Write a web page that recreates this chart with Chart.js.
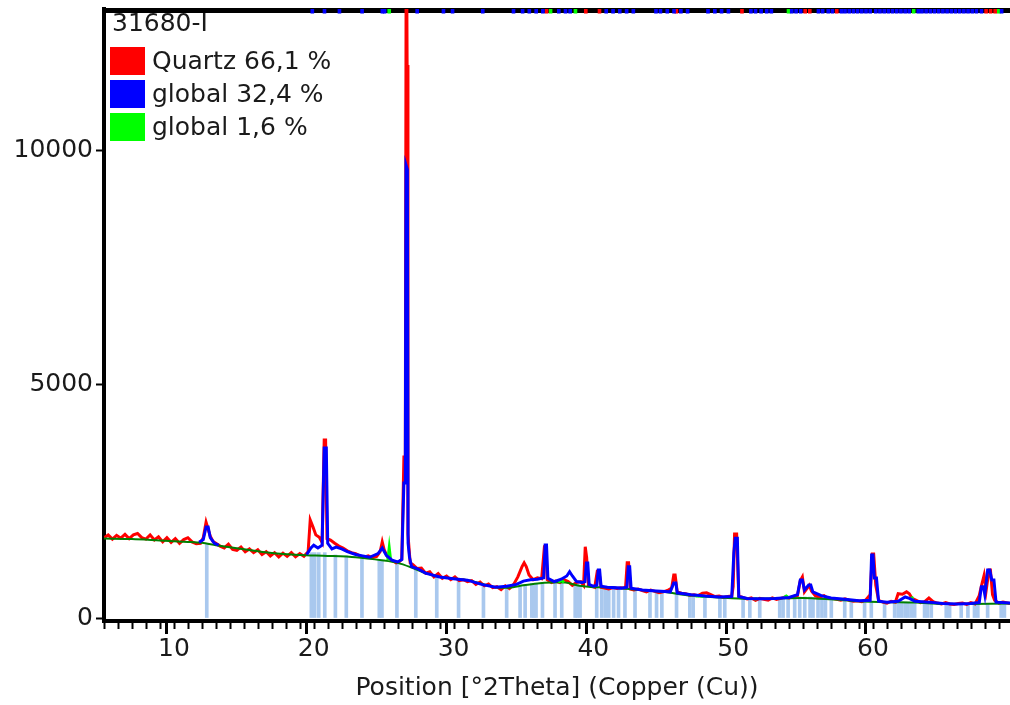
<!DOCTYPE html>
<html>
<head>
<meta charset="utf-8">
<script src="https://cdn.jsdelivr.net/npm/chart.js@4.4.1/dist/chart.umd.min.js"></script>
<style>
  html, body { margin: 0; padding: 0; background: #ffffff; }
  #wrap { width: 1010px; height: 705px; }
</style>
</head>
<body>
<div id="wrap"><canvas id="xrd" width="1010" height="705"></canvas></div>
<script>
// ---- Sample / legend text ----
const sampleName = '31680-I';
const legendLabels = ['Quartz 66,1 %', 'global 32,4 %', 'global 1,6 %'];
const legendColors = ['#ff0000', '#0000ff', '#00ff00'];
const xTitle = 'Position [°2Theta] (Copper (Cu))';
const yTickValues = [0, 5000, 10000];
const xLabelValues = [10, 20, 30, 40, 50, 60];

// ---- Observed counts (red) ----
const obsTheta = [5.0,5.3,5.6,5.9,6.2,6.5,6.8,7.1,7.4,7.7,8.0,8.3,8.6,8.9,9.2,9.5,9.8,10.1,10.4,10.7,11.0,11.3,11.6,11.9,12.1,12.3,12.45,12.6,12.8,13.0,13.3,13.6,13.9,14.2,14.5,14.8,15.1,15.4,15.7,16.0,16.3,16.6,16.9,17.2,17.5,17.8,18.1,18.4,18.7,19.0,19.3,19.6,19.75,19.95,20.15,20.4,20.6,20.75,20.85,20.95,21.2,21.5,21.8,22.1,22.4,22.7,23.0,23.3,23.6,23.9,24.2,24.5,24.75,24.9,25.05,25.3,25.6,25.9,26.1,26.3,26.45,26.55,26.62,26.68,26.74,26.8,26.9,27.1,27.4,27.7,28.0,28.3,28.6,28.9,29.2,29.5,29.8,30.1,30.4,30.7,31.0,31.3,31.6,31.9,32.2,32.5,32.8,33.1,33.4,33.7,34.0,34.3,34.6,34.9,35.05,35.2,35.4,35.7,36.0,36.3,36.5,36.6,36.7,37.0,37.3,37.6,37.9,38.2,38.5,38.8,39.1,39.3,39.42,39.52,39.65,39.9,40.1,40.28,40.4,40.55,40.8,41.1,41.4,41.7,42.0,42.3,42.42,42.52,42.65,42.9,43.2,43.5,43.8,44.1,44.4,44.7,45.0,45.3,45.6,45.75,45.85,46.0,46.3,46.6,46.9,47.2,47.5,47.8,48.1,48.4,48.7,49.0,49.3,49.6,49.9,50.0,50.1,50.25,50.4,50.7,51.0,51.3,51.6,51.9,52.2,52.5,52.8,53.1,53.4,53.7,54.0,54.3,54.6,54.8,54.95,55.1,55.3,55.45,55.6,55.9,56.2,56.5,56.8,57.1,57.4,57.7,58.0,58.3,58.6,58.9,59.2,59.5,59.8,59.95,60.05,60.2,60.4,60.7,61.0,61.3,61.6,61.8,62.1,62.4,62.6,62.8,63.1,63.4,63.7,64.0,64.3,64.6,64.9,65.2,65.5,65.8,66.1,66.4,66.7,67.0,67.3,67.6,67.75,67.95,68.1,68.3,68.4,68.55,68.7,69.0,69.3,69.8];
const obsCounts = [1720,1780,1690,1770,1710,1790,1700,1780,1810,1720,1690,1780,1670,1740,1630,1720,1620,1700,1600,1680,1720,1630,1590,1600,1720,2050,1900,1750,1640,1600,1540,1500,1580,1470,1450,1520,1420,1480,1400,1460,1360,1420,1330,1400,1310,1390,1320,1400,1310,1380,1320,1420,2100,1950,1780,1730,1620,3810,3810,1700,1670,1600,1540,1500,1440,1400,1380,1330,1300,1330,1290,1320,1420,1630,1450,1300,1230,1180,1200,1260,3450,3450,16000,11840,1800,1560,1180,1140,1060,1070,960,990,880,950,850,900,820,880,800,820,780,800,720,770,690,730,650,670,610,690,630,720,880,1100,1180,1100,920,820,860,840,1525,1525,820,760,790,760,820,780,700,760,780,700,1525,1300,700,680,660,1000,1000,660,640,620,650,630,650,640,1185,1185,620,600,620,590,560,600,570,540,560,590,640,920,920,560,530,520,490,500,480,530,540,500,460,470,440,460,470,670,1800,1800,470,440,410,430,380,420,400,380,430,400,420,450,430,460,480,800,880,560,640,700,580,470,450,480,420,420,400,380,410,380,360,370,350,390,500,1370,1370,700,380,340,320,360,340,520,510,560,520,420,380,330,350,430,350,320,300,330,300,290,310,320,290,330,300,480,680,920,600,1030,1030,500,380,320,340,310];

// ---- Calculated profile (blue), gaps where it coincides with the background ----
const calcTheta = [11.8,12.1,12.3,12.45,12.6,12.9,13.2,13.3,19.4,19.5,19.8,20.0,20.3,20.6,20.75,20.9,21.0,21.3,21.6,22.0,22.4,23.0,23.5,24.0,24.6,24.9,25.2,25.6,26.0,26.3,26.45,26.55,26.6,26.7,26.75,26.85,27.0,27.4,28.0,29.0,30.0,31.0,32.0,33.0,33.8,34.5,35.0,35.5,36.0,36.45,36.55,36.65,36.75,37.2,37.7,38.1,38.3,38.5,38.8,39.2,39.4,39.5,39.6,39.7,40.0,40.25,40.35,40.45,40.55,41.0,42.0,42.4,42.5,42.6,42.7,43.5,44.5,45.5,45.75,45.9,46.0,47.0,48.0,49.0,49.9,50.05,50.15,50.3,50.4,51.0,52.0,53.0,54.0,54.6,54.8,54.95,55.1,55.4,55.55,55.7,56.3,57.0,58.0,59.0,59.8,59.9,60.0,60.1,60.25,60.4,61.0,61.8,62.3,62.6,63.0,64.0,65.0,66.0,67.0,67.6,67.75,67.9,68.0,68.2,68.35,68.5,68.65,68.8,69.8];
const calcCounts = [1620,1680,1950,1950,1720,1600,1560,null,null,1360,1500,1560,1500,1560,3640,3640,1600,1480,1520,1480,1420,1360,1330,1300,1380,1500,1340,1240,1200,1250,2890,2890,9700,9600,1600,1300,1100,1060,960,880,840,810,720,660,680,720,790,820,830,860,1563,1563,850,780,830,900,990,900,780,760,780,1180,1180,720,680,700,1030,1030,680,660,640,660,1100,1100,640,600,580,560,750,750,540,500,470,450,460,1400,1710,1710,460,420,410,420,440,500,815,815,600,705,705,560,480,430,400,370,380,1350,1350,855,855,360,340,360,450,420,360,340,310,300,310,330,670,670,500,1030,1030,815,815,340,320];

// ---- Background (dark green) ----
const bgTheta = [5,7,9,11,12,13,15,17,19,21,23,25,26,27,28,29,31,33,34,35,36,37,38,39,40,41,43,45,47,49,51,53,55,57,59,61,63,65,67,69.8];
const bgCounts = [1700,1690,1660,1630,1610,1560,1470,1390,1350,1330,1300,1230,1180,1080,960,880,810,660,650,700,740,760,760,690,660,660,610,560,480,440,410,420,430,400,360,340,330,300,300,310];

// ---- Minor phase (bright green) ----
const phase3Theta = [25.3,25.4,25.5,25.6,37.5,37.7,37.9,38.0,47.3,47.6,47.9,48.0,51.5,51.7,51.8,53.6,53.8,54.0,54.1,62.7,62.9,63.0];
const phase3Counts = [1240,1500,1240,null,760,815,760,null,470,470,460,null,410,410,null,430,470,430,null,420,440,null];

// ---- Reference line positions (light blue sticks) ----
const stickTheta = [12.35,19.83,20.07,20.36,20.79,21.55,22.33,23.45,24.69,24.88,25.95,27.30,28.80,30.36,32.14,33.80,34.76,35.12,35.60,35.75,35.90,36.36,37.26,37.74,38.70,38.85,39.05,40.24,40.60,40.85,41.10,41.45,41.80,42.26,42.98,44.05,44.52,44.90,45.95,46.90,47.14,47.98,49.05,49.40,50.71,51.19,51.90,53.33,53.57,53.93,54.40,54.76,55.12,55.50,55.71,56.07,56.35,56.60,57.02,57.98,58.45,59.40,59.88,60.83,61.55,61.80,62.05,62.30,62.50,62.74,62.98,63.69,63.90,64.17,65.24,65.48,66.31,66.79,67.26,67.50,68.20,69.17,69.40];
const stickCounts = [1600,1400,1400,1400,1400,1350,1330,1290,1240,1240,1160,1060,890,820,700,650,690,720,740,740,740,760,760,760,720,720,700,660,660,660,650,650,640,630,610,580,570,560,540,490,480,460,440,440,420,410,410,420,420,430,440,450,450,450,440,430,420,420,400,380,370,360,350,340,340,340,340,340,340,335,330,320,320,320,300,300,300,300,305,305,310,310,310];

// ---- Phase markers along the top frame ----
const markBlue = [19.9,20.77,21.84,23.46,24.91,25.07,27.4,29.28,29.93,32.09,34.29,34.94,35.42,35.91,36.39,37.53,38.01,38.34,40.92,41.41,41.89,42.38,42.86,44.48,44.8,45.29,45.77,46.26,46.74,48.2,48.69,49.17,49.66,51.27,51.6,52.0,52.4,52.73,54.19,54.5,54.83,56.1,56.4,56.8,57.1,57.74,58.0,58.3,58.6,58.9,59.2,59.5,59.8,60.2,60.5,60.8,61.1,61.4,61.7,62.0,62.3,62.59,63.24,63.5,63.8,64.1,64.4,64.7,65.0,65.3,65.6,65.9,66.2,66.5,66.8,67.1,67.4,67.76,69.2];
const markRed = [36.65,39.46,40.44,45.94,50.63,55.15,55.48,57.41,68.09,68.41,68.74];
const markGreen = [25.4,36.94,38.72,53.96,62.91,69.0];

// ---- Axis ranges ----
const xMin = 5, xMax = 69.8;
const yMin = -64, yMax = 13040;
const markSpan = [12950, 13040];

const FONT = '"DejaVu Sans", sans-serif';
const TEXT = '#1a1a1a';

const pts = (xs, ys) => xs.map((x, i) => ({ x: x, y: ys[i] }));
const marks = xs => xs.map(x => ({ x: x, y: markSpan }));

// Top frame line, minor x ticks and the in-plot legend
const framePlugin = {
  id: 'frame',
  beforeDatasetsDraw(chart) {
    const { ctx, chartArea: a } = chart;
    const xs = chart.scales.x;
    ctx.save();
    ctx.strokeStyle = '#000';
    ctx.lineWidth = 5;
    ctx.beginPath();
    ctx.moveTo(a.left - 2, a.top + 1.5);
    ctx.lineTo(a.right, a.top + 1.5);
    ctx.stroke();
    ctx.lineWidth = 2;
    ctx.beginPath();
    for (let v = Math.ceil(xMin); v <= Math.floor(xMax); v++) {
      const px = Math.round(xs.getPixelForValue(v)) + 0.5;
      ctx.moveTo(px, a.bottom + 2);
      ctx.lineTo(px, a.bottom + 8);
    }
    ctx.stroke();
    ctx.restore();
  },
  afterDraw(chart) {
    const { ctx, chartArea: a } = chart;
    ctx.save();
    ctx.font = '25px ' + FONT;
    ctx.textBaseline = 'middle';
    ctx.textAlign = 'left';
    ctx.fillStyle = TEXT;
    ctx.fillText(sampleName, a.left + 8, 24);
    legendLabels.forEach((lab, i) => {
      const cy = 61 + i * 33;
      ctx.fillStyle = legendColors[i];
      ctx.fillRect(a.left + 6, cy - 14, 35, 28);
      ctx.fillStyle = TEXT;
      ctx.fillText(lab, a.left + 48, cy + 1);
    });
    ctx.restore();
  }
};

new Chart(document.getElementById('xrd'), {
  type: 'line',
  data: {
    datasets: [
      { type: 'bar', label: 'blue markers', data: marks(markBlue), backgroundColor: '#0000ff',
        barThickness: 3, grouped: false, order: 0 },
      { type: 'bar', label: 'red markers', data: marks(markRed), backgroundColor: '#ff0000',
        barThickness: 3, grouped: false, order: 0 },
      { type: 'bar', label: 'green markers', data: marks(markGreen), backgroundColor: '#00ff00',
        barThickness: 3, grouped: false, order: 0 },
      { label: legendLabels[1], data: pts(calcTheta, calcCounts), borderColor: '#0000ff',
        borderWidth: 3, pointRadius: 0, tension: 0, spanGaps: false, order: 1 },
      { label: legendLabels[2], data: pts(phase3Theta, phase3Counts), borderColor: '#00ff00',
        borderWidth: 3, pointRadius: 0, tension: 0, spanGaps: false, order: 2 },
      { label: 'background', data: pts(bgTheta, bgCounts), borderColor: '#008000',
        borderWidth: 2, pointRadius: 0, tension: 0.3, order: 3 },
      { label: legendLabels[0], data: pts(obsTheta, obsCounts), borderColor: '#ff0000',
        borderWidth: 3, pointRadius: 0, tension: 0, order: 4 },
      { type: 'bar', label: 'reference lines', data: pts(stickTheta, stickCounts),
        backgroundColor: '#a9c8ee', barThickness: 3, grouped: false, order: 5 }
    ]
  },
  options: {
    responsive: false,
    devicePixelRatio: 1,
    animation: false,
    events: [],
    layout: { padding: { top: 9, right: 0, left: 0, bottom: 0 } },
    plugins: { legend: { display: false }, tooltip: { enabled: false } },
    scales: {
      x: {
        type: 'linear', min: xMin, max: xMax, offset: false,
        afterFit(s) { s.height = 84; s.paddingLeft = 0; s.paddingRight = 0; },
        grid: {
          drawOnChartArea: false, drawTicks: true, tickLength: 13, tickWidth: 3,
          tickColor: c => (c.tick && c.tick.value % 10 === 0) ? '#000' : 'rgba(0,0,0,0)'
        },
        border: { display: true, color: '#000', width: 4 },
        ticks: {
          stepSize: 1, autoSkip: false, maxRotation: 0, padding: 0,
          color: TEXT, font: { family: FONT, size: 25 },
          callback: v => xLabelValues.includes(v) ? String(v) : ''
        },
        title: {
          display: true, text: xTitle, color: TEXT,
          font: { family: FONT, size: 25 }, padding: { top: 0, bottom: 2 }
        }
      },
      y: {
        type: 'linear', min: yMin, max: yMax,
        afterFit(s) { s.width = 104; s.paddingTop = 0; s.paddingBottom = 0; },
        afterBuildTicks(s) { s.ticks = yTickValues.map(v => ({ value: v })); },
        grid: { drawOnChartArea: false, drawTicks: true, tickLength: 8, tickWidth: 2, tickColor: '#000' },
        border: { display: true, color: '#000', width: 4 },
        ticks: { color: TEXT, padding: 3, font: { family: FONT, size: 25 }, callback: v => String(v) }
      }
    }
  },
  plugins: [framePlugin]
});
</script>
</body>
</html>
